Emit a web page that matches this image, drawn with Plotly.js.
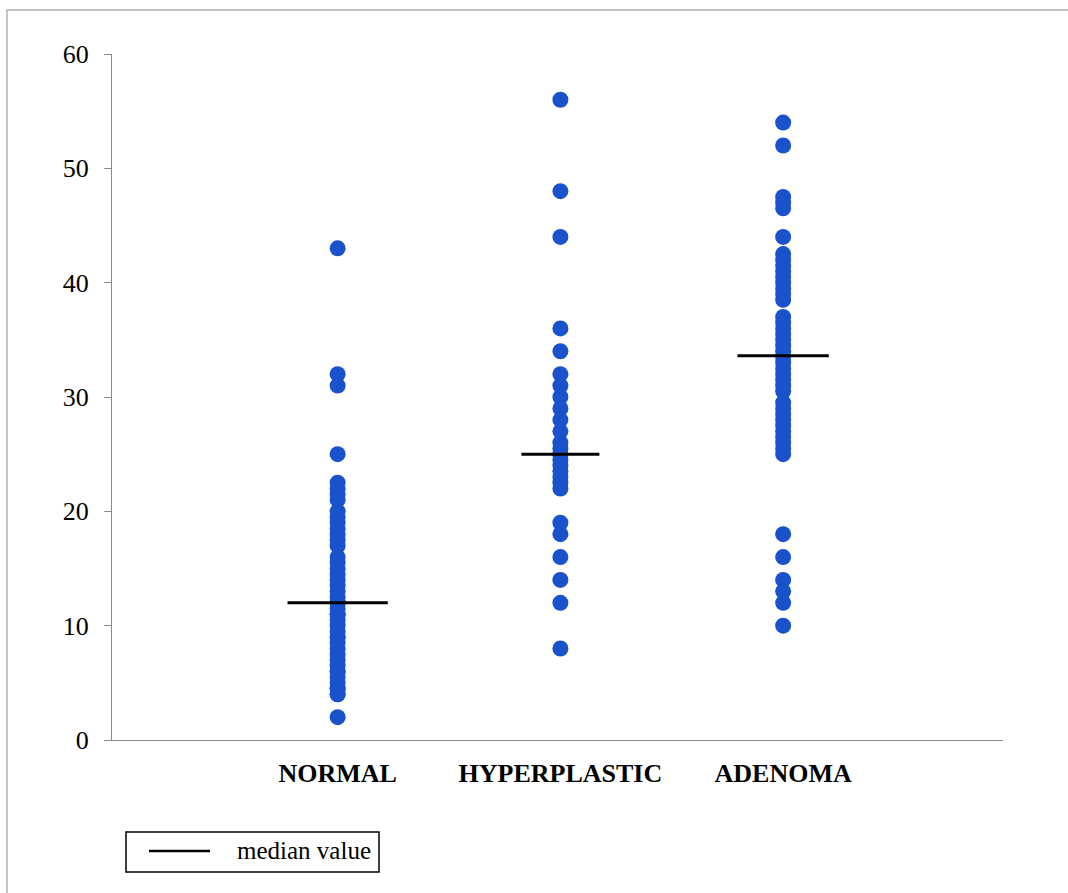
<!DOCTYPE html>
<html>
<head>
<meta charset="utf-8">
<script src="https://cdn.plot.ly/plotly-3.0.1.min.js"></script>
<style>
html,body{margin:0;padding:0;background:#fff;}
#chart{width:1068px;height:893px;}
</style>
</head>
<body>
<div id="chart"></div>
<script>
// Categories and their x positions
const categories = ["NORMAL", "HYPERPLASTIC", "ADENOMA"];
const categoryPos = [1, 2, 3];

// Individual values
const normalValues = [43, 32, 31, 25, 22.5, 22, 21.5, 21, 20, 19.5, 19, 18.5, 18, 17.5, 17, 16, 15.5, 15, 14.5, 14, 13.5, 13, 12.5,
  12, 12, 12, 11.5, 11, 11, 10.5, 10, 9.5, 9, 9, 8.5, 8, 7.5, 7, 6.5, 6, 6, 5.5, 5, 4.5, 4.5, 4, 4, 2];
const hyperplasticValues = [56, 48, 44, 36, 34, 32, 31, 30, 29, 28, 27, 26, 25.5, 25, 25, 24.5, 24, 23.5, 23, 22.5, 22,
  19, 18, 16, 14, 12, 8];
const adenomaValues = [54, 52, 47.5, 47, 46.5, 44, 42.5, 42, 41.5, 41, 40.5, 40, 39.5, 39, 38.5,
  37, 36.5, 36, 35.5, 35, 34.5, 34, 33.5, 33, 32.5, 32, 31.5, 31, 30.5,
  29.5, 29, 28.5, 28, 27.5, 27, 26.5, 26, 25.5, 25, 18, 16, 14, 13, 12, 10];
const medianValues = [12, 25, 33.6];

// y-axis ticks
const yTicks = [0, 10, 20, 30, 40, 50, 60];

const seriesValues = [normalValues, hyperplasticValues, adenomaValues];
const medianHalfWidth = [0.225, 0.175, 0.205];

const traces = [];
seriesValues.forEach((vals, i) => {
  traces.push({
    type: "scatter", mode: "markers",
    x: vals.map(() => categoryPos[i]), y: vals,
    marker: {color: "#1a52cc", size: 16, line: {width: 0}},
    showlegend: false, hoverinfo: "y"
  });
});
medianValues.forEach((m, i) => {
  traces.push({
    type: "scatter", mode: "lines",
    x: [categoryPos[i] - medianHalfWidth[i], categoryPos[i] + medianHalfWidth[i]],
    y: [m, m],
    line: {color: "#000", width: 3},
    showlegend: false, hoverinfo: "skip"
  });
});

// pixel geometry helpers for frame/legend (paper coords)
const W = 1068, H = 893, L = 112, R = 65, T = 54, B = 153;
const pw = W - L - R, ph = H - T - B;
const px = v => (v - L) / pw;
const py = v => (H - B - v) / ph;

const layout = {
  width: W, height: H,
  margin: {l: L, r: R, t: T, b: B},
  paper_bgcolor: "#fff", plot_bgcolor: "#fff",
  font: {family: "Liberation Serif, serif", color: "#000"},
  xaxis: {
    range: [-0.013, 3.987], tickvals: categoryPos, ticktext: categories,
    showgrid: false, zeroline: false, showline: true, linecolor: "#8a8a8a", linewidth: 1,
    ticks: "", tickfont: {family: "Liberation Serif", size: 26, color: "#000", weight: "bold"},
    ticklabelstandoff: 10
  },
  yaxis: {
    range: [0, 60], tickvals: yTicks, showgrid: false, zeroline: false,
    showline: true, linecolor: "#8a8a8a", linewidth: 1,
    ticks: "outside", ticklen: 7, tickcolor: "#8a8a8a", tickwidth: 1,
    tickfont: {family: "Liberation Serif", size: 26, color: "#000"},
    ticklabelstandoff: 10
  },
  shapes: [
    {type: "rect", xref: "paper", yref: "paper", x0: px(7), x1: px(1075), y0: py(10), y1: py(900),
      line: {color: "#b0b0b0", width: 1.5}, fillcolor: "rgba(0,0,0,0)", layer: "below"},
    {type: "rect", xref: "paper", yref: "paper", x0: px(126), x1: px(379), y0: py(832), y1: py(872),
      line: {color: "#000", width: 1.5}, fillcolor: "rgba(0,0,0,0)"},
    {type: "line", xref: "paper", yref: "paper", x0: px(149), x1: px(210), y0: py(851), y1: py(851),
      line: {color: "#000", width: 2.5}}
  ],
  annotations: [
    {xref: "paper", yref: "paper", x: px(235), y: py(851), xanchor: "left", yanchor: "middle",
      text: "median value", showarrow: false,
      font: {family: "Liberation Serif", size: 25, color: "#000"}}
  ],
  showlegend: false
};

Plotly.newPlot("chart", traces, layout, {displayModeBar: false, staticPlot: true});
</script>
</body>
</html>
